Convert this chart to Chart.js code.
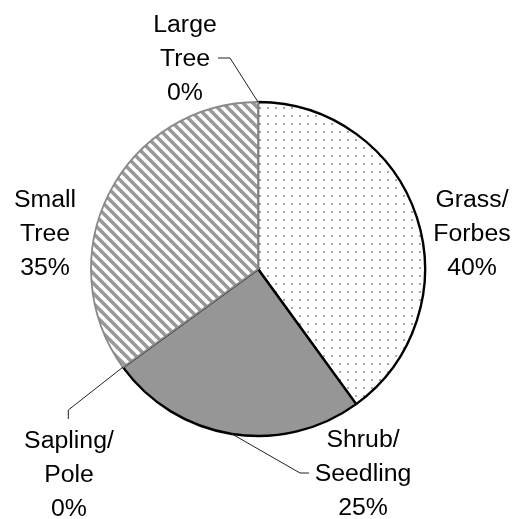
<!DOCTYPE html>
<html><head><meta charset="utf-8">
<script src="https://cdn.jsdelivr.net/npm/chart.js@4.4.1/dist/chart.umd.min.js"></script>
<style>html,body{margin:0;padding:0;background:#fff;} #wrap{width:522px;height:519px;position:relative;}</style>
</head><body><div id="wrap"><canvas id="c" width="522" height="519"></canvas></div>
<script>
// ---- data ----
const categories = ["Grass/Forbes", "Shrub/Seedling", "Sapling/Pole", "Small Tree", "Large Tree"];
const labelLines = [["Grass/", "Forbes"], ["Shrub/", "Seedling"], ["Sapling/", "Pole"], ["Small", "Tree"], ["Large", "Tree"]];
const values = [40, 25, 0, 35, 0];
const percentLabels = ["40%", "25%", "0%", "35%", "0%"];

// ---- styling / layout ----
function makeDots() {
  const t = document.createElement('canvas'); t.width = 8; t.height = 8;
  const g = t.getContext('2d');
  g.fillStyle = '#fff'; g.fillRect(0, 0, 8, 8);
  g.fillStyle = '#a8a8a8'; g.fillRect(3, 3, 2, 2);
  return g.createPattern(t, 'repeat');
}
function makeHatch() {
  const n = 10;
  const t = document.createElement('canvas'); t.width = n; t.height = n;
  const g = t.getContext('2d');
  g.fillStyle = '#fff'; g.fillRect(0, 0, n, n);
  g.strokeStyle = '#999'; g.lineWidth = 3.6; g.lineCap = 'square';
  for (let k = -1; k <= 1; k++) {
    g.beginPath(); g.moveTo(k * n - 2, -2); g.lineTo(k * n + n + 2, n + 2); g.stroke();
  }
  return g.createPattern(t, 'repeat');
}
const fills = [makeDots(), '#969696', '#969696', makeHatch(), '#ffffff'];
const borders = ['#000', '#000', '#888', '#8a8a8a', '#888'];
const borderWidths = [2.4, 2.4, 0, 1.8, 0];

// label anchors relative to pie centre: [dx of text centre, dy of first baseline]
const labelPos = [[214, -62], [105, 178], [-189, 179], [-213, -62], [-73, -237]];
// leader lines: [elbow dx, elbow dy, end dx, end dy] relative to pie centre (null = none)
const leaders = [null, [42, 204, 51, 204], [-189.7, 141, -189.7, 150], null, [-28, -211, -40, -211]];
const FONT = '23px "Liberation Sans", Arial, sans-serif';
const LINE_H = 34;
const XSCALE = 1.08;

const labelPlugin = {
  id: 'pieLabels',
  afterDatasetsDraw(chart) {
    const ctx = chart.ctx;
    const meta = chart.getDatasetMeta(0);
    const arcs = meta.data;
    const cx = arcs[0].x, cy = arcs[0].y;
    ctx.save();
    ctx.strokeStyle = '#222'; ctx.lineWidth = 1;
    arcs.forEach((arc, i) => {
      const L = leaders[i];
      if (!L) return;
      const mid = values[i] === 0 ? arc.startAngle : (arc.startAngle + arc.endAngle) / 2;
      const sx = cx + arc.outerRadius * Math.cos(mid);
      const sy = cy + arc.outerRadius * Math.sin(mid);
      ctx.beginPath();
      ctx.moveTo(sx, sy);
      ctx.lineTo(cx + L[0], cy + L[1]);
      ctx.lineTo(cx + L[2], cy + L[3]);
      ctx.stroke();
    });
    ctx.font = FONT; ctx.fillStyle = '#000'; ctx.textAlign = 'center'; ctx.textBaseline = 'alphabetic';
    arcs.forEach((arc, i) => {
      const lines = labelLines[i].concat([percentLabels[i]]);
      const [dx, dy] = labelPos[i];
      lines.forEach((s, j) => {
        ctx.save();
        ctx.translate(cx + dx, cy + dy + j * LINE_H);
        ctx.scale(XSCALE, 1);
        ctx.fillText(s, 0, 0);
        ctx.restore();
      });
    });
    ctx.restore();
  }
};

new Chart(document.getElementById('c'), {
  type: 'pie',
  data: {
    labels: categories,
    datasets: [{
      data: values,
      backgroundColor: fills,
      borderColor: borders,
      borderWidth: borderWidths,
      borderAlign: 'center',
      borderJoinStyle: 'round'
    }]
  },
  options: {
    responsive: false,
    animation: false,
    radius: 167,
    layout: { padding: { left: 0, right: 6, top: 19, bottom: 0 } },
    plugins: { legend: { display: false }, tooltip: { enabled: false } }
  },
  plugins: [labelPlugin]
});
</script>
</body></html>
